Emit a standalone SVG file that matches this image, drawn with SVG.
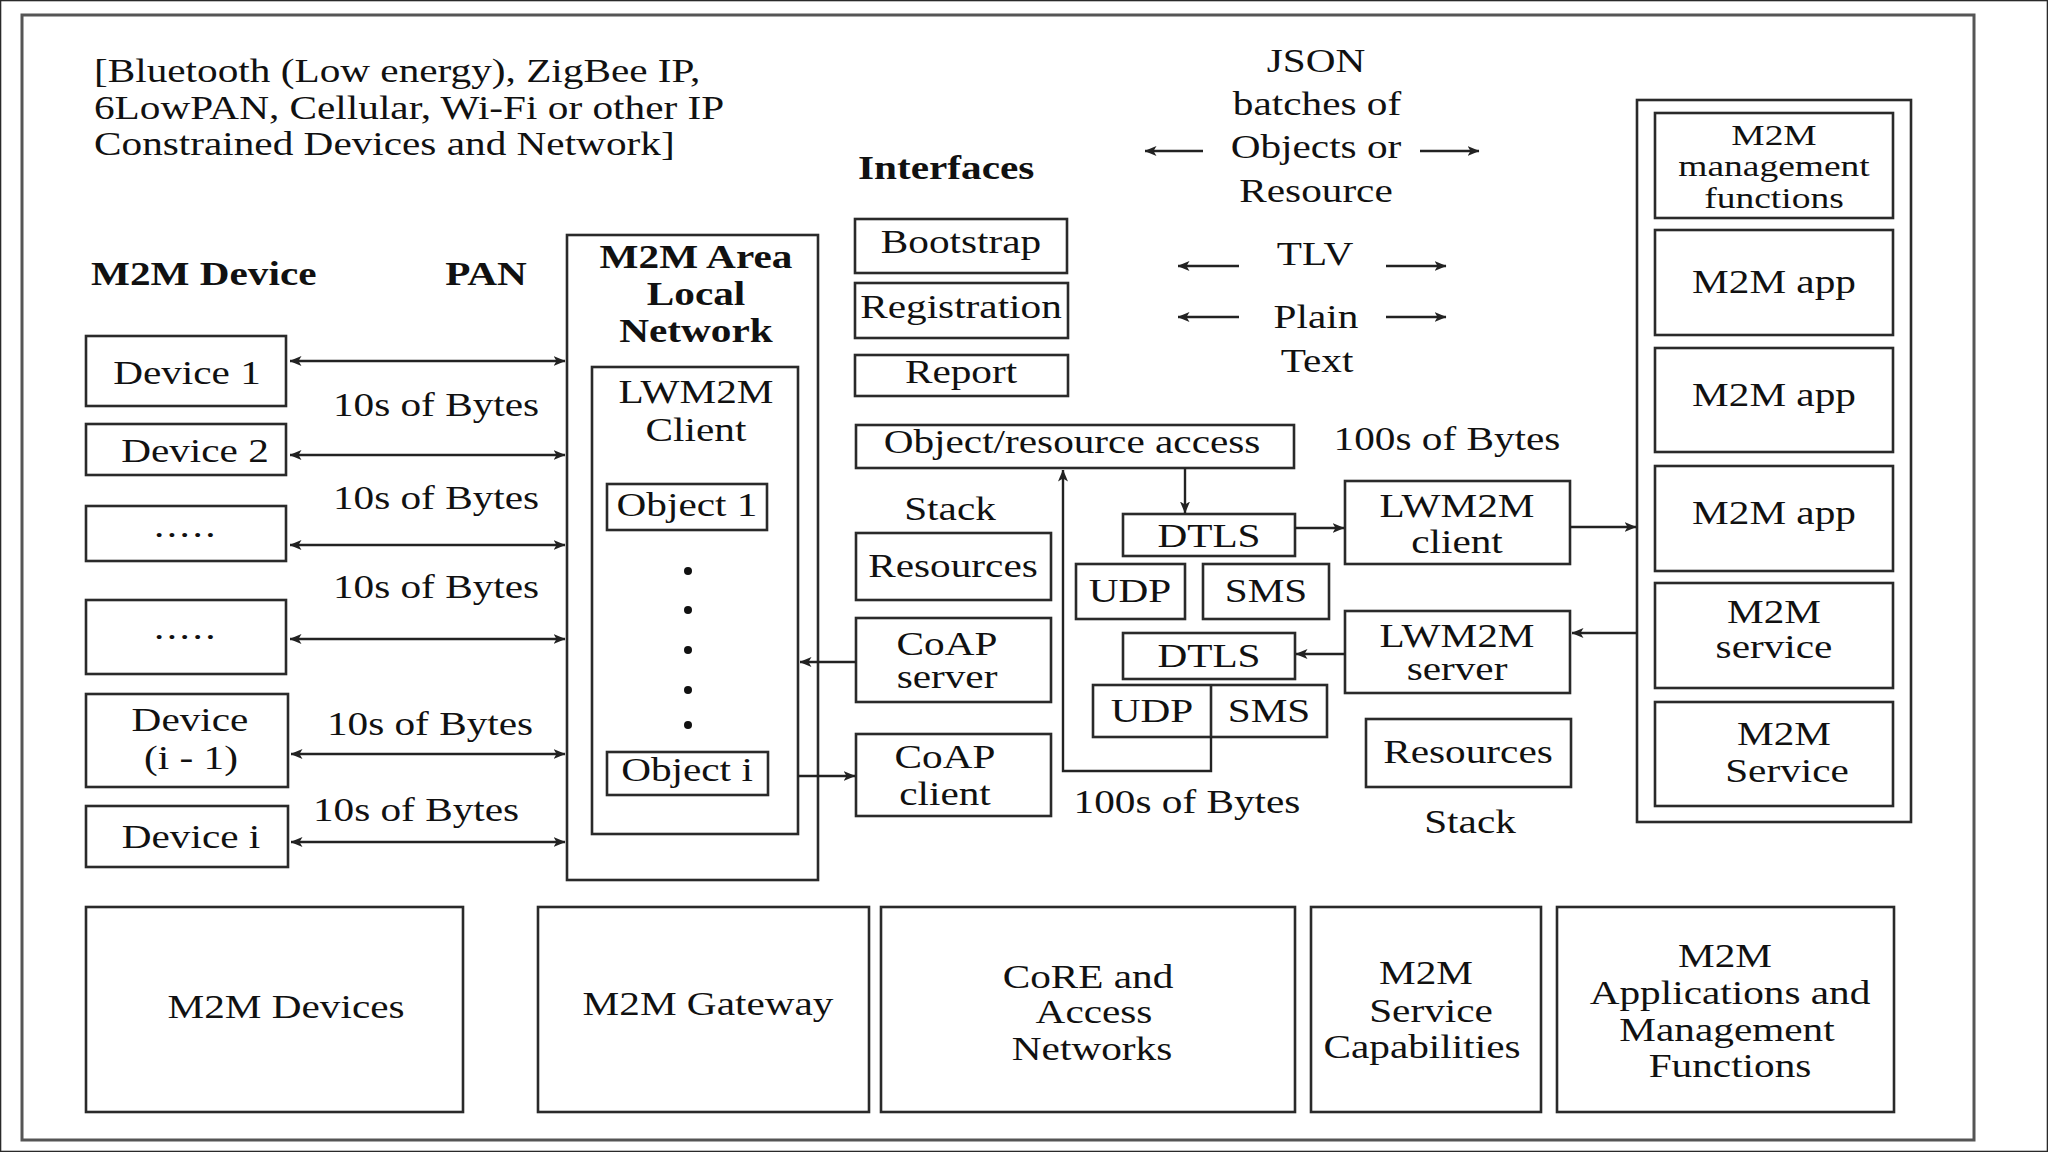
<svg xmlns="http://www.w3.org/2000/svg" width="2048" height="1152" viewBox="0 0 2048 1152">
<style>
text{font-family:"Liberation Serif","Times New Roman",serif;font-size:33px;fill:#111;text-anchor:middle}
.b{font-weight:bold}
.l{text-anchor:start}
.s{font-size:30px}
rect{fill:none;stroke:#2a2a2a;stroke-width:2.6}
.c line,.c path{fill:none;stroke:#222;stroke-width:2.4}
.dot{fill:#111}
</style>
<defs>
<marker id="ah" viewBox="0 0 12 10" refX="11.5" refY="5" markerWidth="12" markerHeight="10" markerUnits="userSpaceOnUse" orient="auto-start-reverse">
<path d="M0,0 L12,5 L0,10 L3,5 Z" fill="#222"/>
</marker>
</defs>
<rect x="0" y="0" width="2048" height="1152" fill="#fff" stroke="none"/>
<rect id="frame" x="22" y="15" width="1952" height="1125" style="stroke:#555;stroke-width:3"/>

<g id="header">
<text class="l" transform="translate(94 82) scale(1.25 1)">[Bluetooth (Low energy), ZigBee IP,</text>
<text class="l" transform="translate(94 119) scale(1.25 1)">6LowPAN, Cellular, Wi-Fi or other IP</text>
<text class="l" transform="translate(94 155) scale(1.25 1)">Constrained Devices and Network]</text>
<text class="b l" transform="translate(91 285) scale(1.25 1)">M2M Device</text>
<text class="b" transform="translate(486 285) scale(1.25 1)">PAN</text>
<text class="b l" transform="translate(858 179) scale(1.25 1)">Interfaces</text>
</g>

<g id="formats">
<text transform="translate(1316 72) scale(1.25 1)">JSON</text>
<text transform="translate(1317 115) scale(1.25 1)">batches of</text>
<text transform="translate(1316 158) scale(1.25 1)">Objects or</text>
<text transform="translate(1316 202) scale(1.25 1)">Resource</text>
<text transform="translate(1315 265) scale(1.25 1)">TLV</text>
<text transform="translate(1316 328) scale(1.25 1)">Plain</text>
<text transform="translate(1317 372) scale(1.25 1)">Text</text>
</g>

<g id="device1"><rect x="86" y="336" width="200" height="70"/><text transform="translate(187 384) scale(1.25 1)">Device 1</text></g>
<g id="device2"><rect x="86" y="424" width="200" height="51"/><text transform="translate(195 462) scale(1.25 1)">Device 2</text></g>
<g id="device3"><rect x="86" y="506" width="200" height="55"/><text transform="translate(186 537) scale(1.25 1)" letter-spacing="2">.....</text></g>
<g id="device4"><rect x="86" y="600" width="200" height="74"/><text transform="translate(186 639) scale(1.25 1)" letter-spacing="2">.....</text></g>
<g id="device5"><rect x="86" y="694" width="202" height="93"/><text transform="translate(190 731) scale(1.25 1)">Device</text><text transform="translate(191 769) scale(1.25 1)">(i - 1)</text></g>
<g id="device6"><rect x="86" y="806" width="202" height="61"/><text transform="translate(191 848) scale(1.25 1)">Device i</text></g>

<g id="bytes-labels">
<text transform="translate(436 416) scale(1.25 1)">10s of Bytes</text>
<text transform="translate(436 509) scale(1.25 1)">10s of Bytes</text>
<text transform="translate(436 598) scale(1.25 1)">10s of Bytes</text>
<text transform="translate(430 735) scale(1.25 1)">10s of Bytes</text>
<text transform="translate(416 821) scale(1.25 1)">10s of Bytes</text>
<text transform="translate(1447 450) scale(1.25 1)">100s of Bytes</text>
<text transform="translate(1187 813) scale(1.25 1)">100s of Bytes</text>
</g>

<g id="area-network">
<rect x="567" y="235" width="251" height="645"/>
<text class="b" transform="translate(696 268) scale(1.25 1)">M2M Area</text>
<text class="b" transform="translate(696 305) scale(1.25 1)">Local</text>
<text class="b" transform="translate(696 342) scale(1.25 1)">Network</text>
</g>
<g id="lwm2m-client-inner">
<rect x="592" y="367" width="206" height="467"/>
<text transform="translate(696 403) scale(1.25 1)">LWM2M</text>
<text transform="translate(696 441) scale(1.25 1)">Client</text>
<circle class="dot" cx="688" cy="571" r="4"/>
<circle class="dot" cx="688" cy="610" r="4"/>
<circle class="dot" cx="688" cy="650" r="4"/>
<circle class="dot" cx="688" cy="690" r="4"/>
<circle class="dot" cx="688" cy="725" r="4"/>
</g>
<g id="object1"><rect x="607" y="484" width="160" height="46"/><text transform="translate(687 516) scale(1.25 1)">Object 1</text></g>
<g id="objecti"><rect x="607" y="752" width="161" height="43"/><text transform="translate(687 781) scale(1.25 1)">Object i</text></g>

<g id="bootstrap"><rect x="855" y="219" width="212" height="54"/><text transform="translate(961 253) scale(1.25 1)">Bootstrap</text></g>
<g id="registration"><rect x="855" y="283" width="213" height="55"/><text transform="translate(961 318) scale(1.25 1)">Registration</text></g>
<g id="report"><rect x="855" y="355" width="213" height="41"/><text transform="translate(961 383) scale(1.25 1)">Report</text></g>
<g id="object-access"><rect x="856" y="425" width="438" height="43"/><text transform="translate(1072 453) scale(1.25 1)">Object/resource access</text></g>
<g id="stack-left"><text transform="translate(950 520) scale(1.25 1)">Stack</text></g>
<g id="resources-left"><rect x="856" y="533" width="195" height="67"/><text transform="translate(953 577) scale(1.25 1)">Resources</text></g>
<g id="coap-server"><rect x="856" y="618" width="195" height="84"/><text transform="translate(947 655) scale(1.25 1)">CoAP</text><text transform="translate(947 688) scale(1.25 1)">server</text></g>
<g id="coap-client"><rect x="856" y="734" width="195" height="82"/><text transform="translate(945 768) scale(1.25 1)">CoAP</text><text transform="translate(945 805) scale(1.25 1)">client</text></g>

<g id="dtls1"><rect x="1123" y="514" width="172" height="42"/><text transform="translate(1209 547) scale(1.25 1)">DTLS</text></g>
<g id="udp1"><rect x="1076" y="564" width="109" height="55"/><text transform="translate(1130 602) scale(1.25 1)">UDP</text></g>
<g id="sms1"><rect x="1203" y="564" width="126" height="55"/><text transform="translate(1266 602) scale(1.25 1)">SMS</text></g>
<g id="dtls2"><rect x="1123" y="633" width="172" height="46"/><text transform="translate(1209 667) scale(1.25 1)">DTLS</text></g>
<g id="udp-sms2"><rect x="1093" y="685" width="234" height="52"/><line x1="1211" y1="685" x2="1211" y2="737" stroke="#2a2a2a" stroke-width="2.6"/><text transform="translate(1152 722) scale(1.25 1)">UDP</text><text transform="translate(1269 722) scale(1.25 1)">SMS</text></g>

<g id="lwm2m-client"><rect x="1345" y="481" width="225" height="83"/><text transform="translate(1457 517) scale(1.25 1)">LWM2M</text><text transform="translate(1457 553) scale(1.25 1)">client</text></g>
<g id="lwm2m-server"><rect x="1345" y="611" width="225" height="82"/><text transform="translate(1457 647) scale(1.25 1)">LWM2M</text><text transform="translate(1457 680) scale(1.25 1)">server</text></g>
<g id="resources-right"><rect x="1366" y="719" width="205" height="68"/><text transform="translate(1468 763) scale(1.25 1)">Resources</text></g>
<g id="stack-right"><text transform="translate(1470 833) scale(1.25 1)">Stack</text></g>

<g id="app-column"><rect x="1637" y="100" width="274" height="722"/></g>
<g id="mgmt"><rect x="1655" y="113" width="238" height="105"/><text class="s" transform="translate(1774 145) scale(1.25 1)">M2M</text><text class="s" transform="translate(1774 176) scale(1.25 1)">management</text><text class="s" transform="translate(1774 208) scale(1.25 1)">functions</text></g>
<g id="app1"><rect x="1655" y="230" width="238" height="105"/><text transform="translate(1774 293) scale(1.25 1)">M2M app</text></g>
<g id="app2"><rect x="1655" y="348" width="238" height="104"/><text transform="translate(1774 406) scale(1.25 1)">M2M app</text></g>
<g id="app3"><rect x="1655" y="466" width="238" height="105"/><text transform="translate(1774 524) scale(1.25 1)">M2M app</text></g>
<g id="service1"><rect x="1655" y="583" width="238" height="105"/><text transform="translate(1774 623) scale(1.25 1)">M2M</text><text transform="translate(1774 658) scale(1.25 1)">service</text></g>
<g id="service2"><rect x="1655" y="702" width="238" height="104"/><text transform="translate(1784 745) scale(1.25 1)">M2M</text><text transform="translate(1787 782) scale(1.25 1)">Service</text></g>

<g id="bottom-devices"><rect x="86" y="907" width="377" height="205"/><text transform="translate(286 1018) scale(1.25 1)">M2M Devices</text></g>
<g id="bottom-gateway"><rect x="538" y="907" width="331" height="205"/><text transform="translate(708 1015) scale(1.25 1)">M2M Gateway</text></g>
<g id="bottom-core"><rect x="881" y="907" width="414" height="205"/><text transform="translate(1088 988) scale(1.25 1)">CoRE and</text><text transform="translate(1094 1023) scale(1.25 1)">Access</text><text transform="translate(1092 1060) scale(1.25 1)">Networks</text></g>
<g id="bottom-service"><rect x="1311" y="907" width="230" height="205"/><text transform="translate(1426 984) scale(1.25 1)">M2M</text><text transform="translate(1431 1022) scale(1.25 1)">Service</text><text transform="translate(1422 1058) scale(1.25 1)">Capabilities</text></g>
<g id="bottom-apps"><rect x="1557" y="907" width="337" height="205"/><text transform="translate(1725 967) scale(1.25 1)">M2M</text><text transform="translate(1730 1004) scale(1.25 1)">Applications and</text><text transform="translate(1727 1041) scale(1.25 1)">Management</text><text transform="translate(1730 1077) scale(1.25 1)">Functions</text></g>

<g id="connectors" class="c">
<line x1="290" y1="361" x2="565" y2="361" marker-start="url(#ah)" marker-end="url(#ah)"/>
<line x1="290" y1="455" x2="565" y2="455" marker-start="url(#ah)" marker-end="url(#ah)"/>
<line x1="290" y1="545" x2="565" y2="545" marker-start="url(#ah)" marker-end="url(#ah)"/>
<line x1="290" y1="639" x2="565" y2="639" marker-start="url(#ah)" marker-end="url(#ah)"/>
<line x1="291" y1="754" x2="565" y2="754" marker-start="url(#ah)" marker-end="url(#ah)"/>
<line x1="291" y1="842" x2="565" y2="842" marker-start="url(#ah)" marker-end="url(#ah)"/>
<line x1="856" y1="662" x2="800" y2="662" marker-end="url(#ah)"/>
<line x1="798" y1="776" x2="855" y2="776" marker-end="url(#ah)"/>
<line x1="1185" y1="468" x2="1185" y2="513" marker-end="url(#ah)"/>
<path d="M1211,737 V771 H1063 V470" marker-end="url(#ah)"/>
<line x1="1295" y1="528" x2="1344" y2="528" marker-end="url(#ah)"/>
<line x1="1570" y1="527" x2="1636" y2="527" marker-end="url(#ah)"/>
<line x1="1637" y1="633" x2="1572" y2="633" marker-end="url(#ah)"/>
<line x1="1345" y1="654" x2="1296" y2="654" marker-end="url(#ah)"/>
<line x1="1203" y1="151" x2="1145" y2="151" marker-end="url(#ah)"/>
<line x1="1420" y1="151" x2="1479" y2="151" marker-end="url(#ah)"/>
<line x1="1239" y1="266" x2="1178" y2="266" marker-end="url(#ah)"/>
<line x1="1386" y1="266" x2="1446" y2="266" marker-end="url(#ah)"/>
<line x1="1239" y1="317" x2="1178" y2="317" marker-end="url(#ah)"/>
<line x1="1386" y1="317" x2="1446" y2="317" marker-end="url(#ah)"/>
</g>
</svg>
